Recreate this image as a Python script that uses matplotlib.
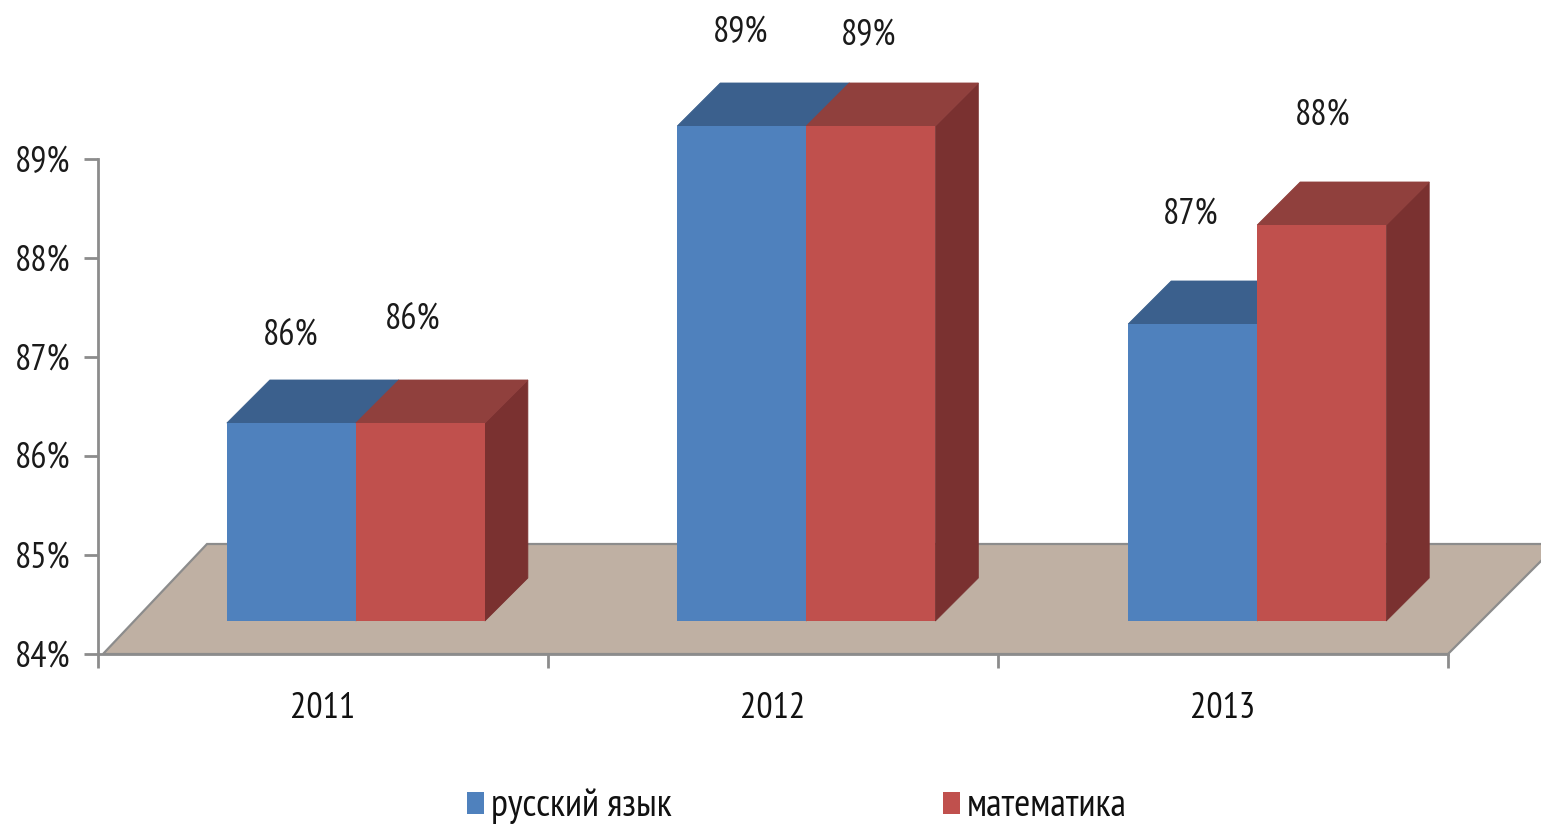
import matplotlib
matplotlib.use("Agg")
import matplotlib.pyplot as plt
from matplotlib.patches import Polygon, Rectangle
from matplotlib import font_manager as fm

names = {f.name for f in fm.fontManager.ttflist}
wanted = ['PT Sans Narrow', 'Roboto Condensed', 'Liberation Sans Narrow', 'Liberation Sans', 'DejaVu Sans']
plt.rcParams['font.family'] = [n for n in wanted if n in names]

years = ['2011', '2012', '2013']
russian = [86, 89, 87]
math_vals = [86, 89, 88]
russian_labels = ['86%', '89%', '87%']
math_labels = ['86%', '89%', '88%']
yticks = [84, 85, 86, 87, 88, 89]

W, H = 1541, 824
fs = 26
fig = plt.figure(figsize=(W / 100, H / 100), dpi=100)
ax = fig.add_axes([98 / W, 1 - 654 / H, 1350 / W, 495 / H])
ax.set_xlim(0, 3)
ax.set_ylim(84, 89)

# pixels per unit, to get the fake 3d offsets
px_x = 450.0
px_y = 99.0
bar_w = 129 / px_x
dx = 43 / px_x
dy = 43 / px_y
lift = 33 / px_y
centers = [0.573, 1.574, 2.576]

gray = '#8c8c8c'

# floor, runs off the right edge of the figure like in the original
floor = Polygon([(5 / px_x, 84), (109 / px_x, 84 + 110 / px_y), (1460 / px_x, 84 + 110 / px_y),
                 (1350 / px_x, 84)], closed=True, facecolor='#bfb0a3', edgecolor=gray,
                linewidth=1.6, clip_on=False, zorder=1)
ax.add_patch(floor)


def bar3d(x0, val, front, top, side, z):
    base = 84 + lift
    y1 = base + (val - 84)
    x1 = x0 + bar_w
    ax.add_patch(Polygon([(x1, base), (x1 + dx, base + dy), (x1 + dx, y1 + dy), (x1, y1)],
                         facecolor=side, edgecolor=side, linewidth=0.6, clip_on=False, zorder=z))
    ax.add_patch(Polygon([(x0, y1), (x0 + dx, y1 + dy), (x1 + dx, y1 + dy), (x1, y1)],
                         facecolor=top, edgecolor=top, linewidth=0.6, clip_on=False, zorder=z))
    ax.add_patch(Rectangle((x0, base), bar_w, val - 84, facecolor=front, edgecolor='none',
                           clip_on=False, zorder=z + 0.5))


for i, c in enumerate(centers):
    bar3d(c - bar_w, russian[i], '#4f81bd', '#3b608d', '#3b608d', 3)
    bar3d(c, math_vals[i], '#c0504d', '#90403d', '#7a3130', 4)

# value labels (px positions from the picture turned to data units)
blue_lab = [(291, 336), (741, 33), (1191, 214)]
red_lab = [(413, 320), (869, 36), (1323, 115)]
for (px, py), s in zip(blue_lab, russian_labels):
    ax.text((px - 98) / px_x, 84 + (654 - py) / px_y, s, ha='center', va='center',
            fontsize=fs, color='#1a1a1a', zorder=6, clip_on=False)
for (px, py), s in zip(red_lab, math_labels):
    ax.text((px - 98) / px_x, 84 + (654 - py) / px_y, s, ha='center', va='center',
            fontsize=fs, color='#1a1a1a', zorder=6, clip_on=False)

# axes
for s in ['top', 'right']:
    ax.spines[s].set_visible(False)
for s in ['left', 'bottom']:
    ax.spines[s].set_color(gray)
    ax.spines[s].set_linewidth(2)
    ax.spines[s].set_zorder(2)
ax.patch.set_alpha(0)
ax.set_yticks(yticks)
ax.set_yticklabels([f'{v}%' for v in yticks], fontsize=fs, color='#1a1a1a')
ax.set_xticks([0, 1, 2, 3])
ax.set_xticklabels([])
ax.tick_params(axis='both', color=gray, width=2, length=10, pad=8)
ax.tick_params(axis='y', pad=10)

for i, y in enumerate(years):
    ax.text(i + 0.5, 84 - 55 / px_y, y, ha='center', va='center', fontsize=fs, color='#111111')

# legend
fig.patches.append(Rectangle((467 / W, 1 - 814 / H), 17 / W, 22 / H, transform=fig.transFigure,
                             facecolor='#4f81bd', edgecolor='none'))
fig.patches.append(Rectangle((943 / W, 1 - 814 / H), 17 / W, 22 / H, transform=fig.transFigure,
                             facecolor='#c0504d', edgecolor='none'))
fig.text(491 / W, 1 - 806 / H, 'русский язык', ha='left', va='center', fontsize=28, color='#111111')
fig.text(967 / W, 1 - 806 / H, 'математика', ha='left', va='center', fontsize=28, color='#111111')

fig.savefig('out.png', dpi=100)
